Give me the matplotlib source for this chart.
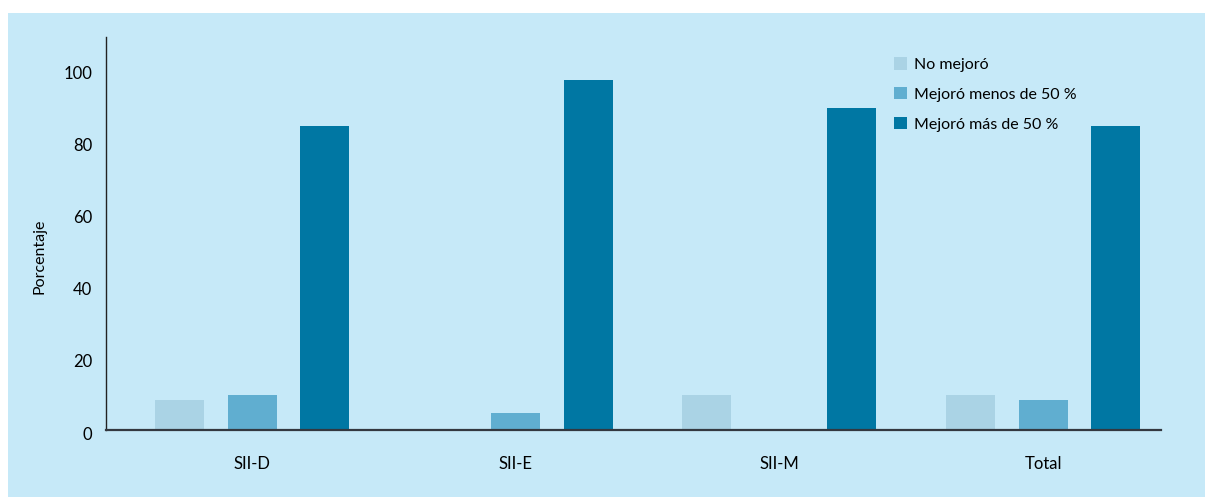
import matplotlib.pyplot as plt
import matplotlib.transforms as mtransforms
from matplotlib.patches import Rectangle, Patch
import numpy as np

plt.rcParams['font.family'] = ['Lato', 'DejaVu Sans']

# ---- data ----
categories = ["SII-D", "SII-E", "SII-M", "Total"]
series_names = ["No mejoró", "Mejoró menos de 50 %", "Mejoró más de 50 %"]
no_mejoro = [8.3, 0, 9.7, 9.7]
menos_50 = [9.7, 4.7, 0, 8.3]
mas_50 = [84.4, 97.2, 89.2, 84.4]
y_ticks = [0, 20, 40, 60, 80, 100]

colors = ["#aad3e5", "#60aed0", "#0077a3"]
bg = "#c6e9f8"

W, H = 1205, 497
fig = plt.figure(figsize=(W / 100, H / 100), dpi=100)
fig.patch.set_facecolor("white")
fig.patches.append(Rectangle((8 / W, 0), 1 - 8 / W, (H - 13) / H,
                             transform=fig.transFigure, facecolor=bg,
                             edgecolor="none", zorder=-5))

ax = fig.add_axes([106 / W, (H - 430) / H, (1161 - 106) / W, (430 - 37) / H])
ax.set_facecolor("none")

x = np.arange(len(categories))
width = 0.186
step = 0.275
for i, vals in enumerate([no_mejoro, menos_50, mas_50]):
    ax.bar(x + (i - 1) * step, vals, width, color=colors[i], label=series_names[i], zorder=2)

ax.set_xlim(-0.554, 3.447)
ax.set_ylim(0, 109)
ax.set_xticks(x)
ax.set_xticklabels(categories, fontsize=12)
ax.set_yticks(y_ticks)
ax.set_yticklabels([str(v) for v in y_ticks], fontsize=12)
ax.tick_params(axis="both", length=0)
ax.tick_params(axis="y", pad=10)
ax.tick_params(axis="x", pad=19)
for lbl in ax.get_yticklabels():
    lbl.set_transform(lbl.get_transform() + mtransforms.ScaledTranslation(0, -3 / 100, fig.dpi_scale_trans))

for s in ["top", "right"]:
    ax.spines[s].set_visible(False)
ax.spines["left"].set_color("#222222")
ax.spines["left"].set_linewidth(1.0)
ax.spines["bottom"].set_color("#333840")
ax.spines["bottom"].set_linewidth(1.6)

fig.text(40 / W, 1 - 256 / H, "Porcentaje", rotation=90, ha="center", va="center", fontsize=11.5)

handles = [Patch(facecolor=c, edgecolor="none") for c in colors]
leg = fig.legend(handles, series_names, loc="upper left",
                 bbox_to_anchor=(888 / W, 1 - 51 / H), frameon=False,
                 fontsize=11.5, handlelength=0.8, handleheight=0.8,
                 handletextpad=0.45, labelspacing=0.95, borderaxespad=0)

fig.savefig("out.png", dpi=100, facecolor="white")
